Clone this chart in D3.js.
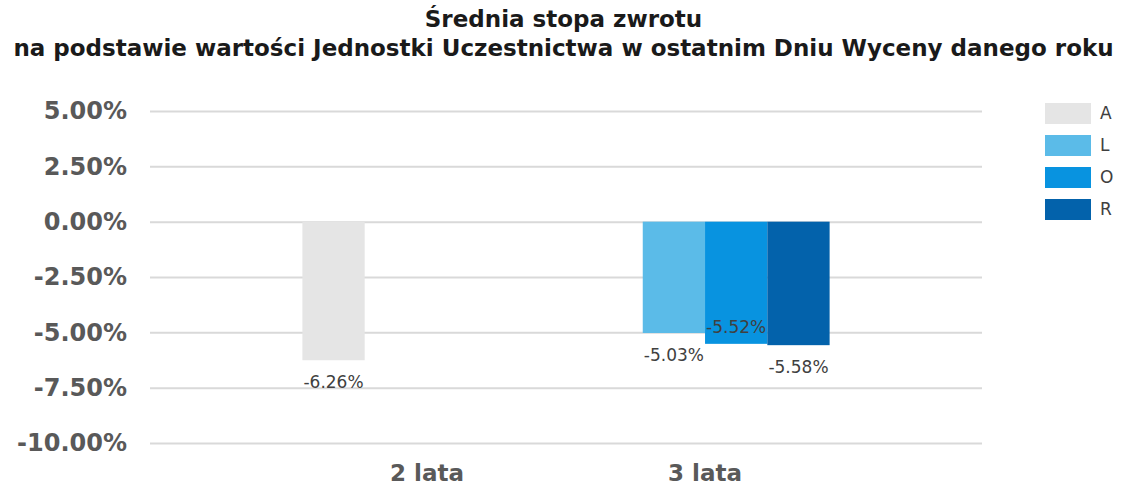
<!DOCTYPE html>
<html>
<head>
<meta charset="utf-8">
<script src="https://cdn.jsdelivr.net/npm/d3@7"></script>
<style>
  body { margin: 0; background: #fff; }
  svg { display: block; }
</style>
</head>
<body>
<svg id="chart"></svg>
<script>
// Chart data
const categories = ["2 lata", "3 lata"];
const seriesNames = ["A", "L", "O", "R"];
const valuesA = [-6.26, null];
const valuesL = [null, -5.03];
const valuesO = [null, -5.52];
const valuesR = [null, -5.58];
const yTicks = [5, 2.5, 0, -2.5, -5, -7.5, -10];
const titleLines = [
  "Średnia stopa zwrotu",
  "na podstawie wartości Jednostki Uczestnictwa w ostatnim Dniu Wyceny danego roku"
];

const seriesValues = { A: valuesA, L: valuesL, O: valuesO, R: valuesR };
const colors = { A: "#e5e5e5", L: "#5bbbe8", O: "#0893e0", R: "#0362ab" };
// labels that Excel pushed inside the bar end
const insideLabels = ["O"];

const width = 1123, height = 487;
const svg = d3.select("#chart").attr("width", width).attr("height", height);

const plot = { left: 150, right: 982, top: 111, bottom: 443 };

// Scales
const x0 = d3.scaleBand()
  .domain(categories)
  .range([plot.left, plot.right])
  .paddingInner(0.104)
  .paddingOuter(0.548);

const x1 = d3.scaleBand()
  .domain(seriesNames)
  .range([0, x0.bandwidth()])
  .padding(0);

const y = d3.scaleLinear()
  .domain([-10, 5])
  .range([plot.bottom, plot.top]);

// Title
svg.append("g")
  .selectAll("text")
  .data(titleLines)
  .enter()
  .append("text")
  .attr("x", width / 2 + 2)
  .attr("y", (d, i) => 27 + i * 29)
  .attr("text-anchor", "middle")
  .style("font-family", "'DejaVu Sans', sans-serif")
  .style("font-weight", "bold")
  .style("font-size", "23px")
  .style("fill", "#1a1a1a")
  .text(d => d);

// Y axis with gridlines
const yAxis = svg.append("g")
  .attr("transform", `translate(${plot.left},0)`)
  .call(d3.axisLeft(y)
    .tickValues(yTicks)
    .tickSize(-(plot.right - plot.left))
    .tickPadding(23)
    .tickFormat(d => d.toFixed(2) + "%"));

yAxis.select(".domain").remove();
yAxis.selectAll(".tick line")
  .attr("stroke", "#d9d9d9")
  .attr("stroke-width", 2);
yAxis.selectAll(".tick text")
  .style("font-family", "'DejaVu Sans', Verdana, sans-serif")
  .style("font-weight", "bold")
  .style("font-size", "24px")
  .style("fill", "#595959");

// X axis labels
const xAxis = svg.append("g")
  .attr("transform", `translate(0,${plot.bottom})`)
  .call(d3.axisBottom(x0).tickSize(0).tickPadding(22));

xAxis.select(".domain").remove();
xAxis.selectAll(".tick text")
  .style("font-family", "'DejaVu Sans', Verdana, sans-serif")
  .style("font-weight", "bold")
  .style("font-size", "23px")
  .style("fill", "#595959");

// Bars
const barData = [];
categories.forEach((cat, i) => {
  seriesNames.forEach(s => {
    const v = seriesValues[s][i];
    if (v !== null) barData.push({ cat, series: s, value: v });
  });
});

svg.append("g")
  .selectAll("rect")
  .data(barData)
  .enter()
  .append("rect")
  .attr("x", d => x0(d.cat) + x1(d.series))
  .attr("y", d => Math.min(y(0), y(d.value)))
  .attr("width", x1.bandwidth())
  .attr("height", d => Math.abs(y(d.value) - y(0)))
  .attr("fill", d => colors[d.series]);

// Value labels
svg.append("g")
  .selectAll("text")
  .data(barData)
  .enter()
  .append("text")
  .attr("x", d => x0(d.cat) + x1(d.series) + x1.bandwidth() / 2)
  .attr("y", d => insideLabels.includes(d.series) ? y(d.value) - 11 : y(d.value) + 28)
  .attr("text-anchor", "middle")
  .style("font-family", "'DejaVu Sans', Verdana, sans-serif")
  .style("font-size", "17px")
  .style("fill", "#404040")
  .text(d => d.value.toFixed(2) + "%");

// Legend
const legend = svg.append("g")
  .attr("transform", "translate(1045, 103)");

const legendItem = legend.selectAll("g")
  .data(seriesNames)
  .enter()
  .append("g")
  .attr("transform", (d, i) => `translate(0, ${i * 32})`);

legendItem.append("rect")
  .attr("width", 46)
  .attr("height", 21)
  .attr("fill", d => colors[d]);

legendItem.append("text")
  .attr("x", 55)
  .attr("y", 16)
  .style("font-family", "'DejaVu Sans', Verdana, sans-serif")
  .style("font-size", "17px")
  .style("fill", "#404040")
  .text(d => d);
</script>
</body>
</html>
